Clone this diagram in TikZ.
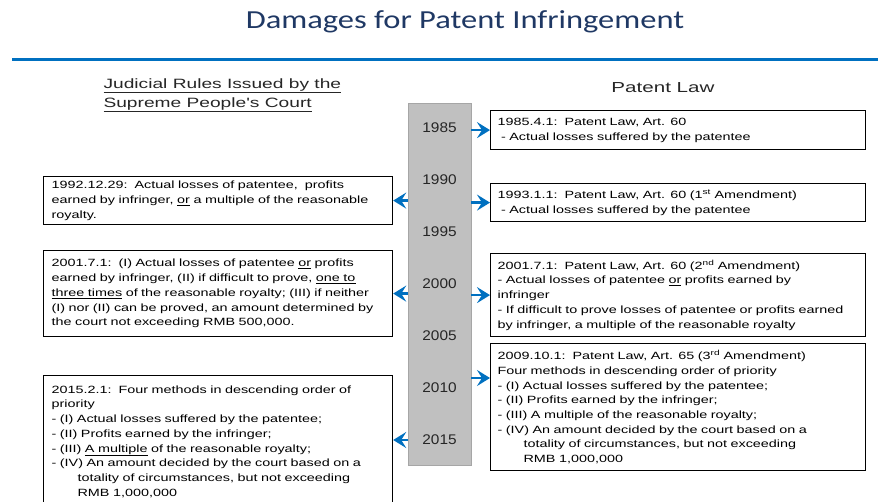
\documentclass[tikz,border=0pt]{standalone}
\usepackage{fontspec}
\usepackage{xcolor}
\usepackage{tikz}
\setmainfont{Liberation Sans}
\newfontfamily\titlefont[FakeStretch=1.25]{Carlito}
\newfontfamily\headfont[FakeStretch=1.42]{Liberation Sans}
\newfontfamily\boxfont[FakeStretch=1.37]{Liberation Sans}
\newfontfamily\yearfont[FakeStretch=1.1]{Liberation Sans}
\usetikzlibrary{arrows.meta,positioning}
\definecolor{titleblue}{RGB}{31,56,100}
\definecolor{ruleblue}{RGB}{0,112,192}
\definecolor{bargray}{RGB}{192,192,192}

\begin{document}
\begin{tikzpicture}
[x=1pt,y=-1pt,>={Stealth[length=13pt,width=16pt,inset=5pt]}]
\tikzset{
	rulesbox/.style = {draw, line width=1.2pt, anchor=north west, align=left, inner xsep=8pt, inner ysep=0pt,
		minimum width=349pt, text width=333pt, font=\boxfont\fontsize{10.5}{14.7}\selectfont},
	lawbox/.style = {draw, line width=1.2pt, anchor=north west, align=left, inner xsep=7pt, inner ysep=0pt,
		minimum width=375pt, text width=361pt, font=\boxfont\fontsize{10.5}{14.7}\selectfont},
	yearmark/.style = {font=\yearfont\fontsize{14}{16}\selectfont, text=black!85},
	heading/.style = {font=\headfont\fontsize{13.5}{19}\selectfont, text=black!85, align=left},
	link/.style = {draw=ruleblue, line width=2.2pt, ->}
}

\useasboundingbox (0,0) rectangle (878,502);

\node(title) at (465,22) [font=\titlefont\fontsize{26}{30}\selectfont, text=titleblue]{Damages for Patent Infringement};
\coordinate(ruleL) at (12,60);
\coordinate(ruleR) at (878,60);
\draw [ruleblue, line width=3pt] (ruleL) -- (ruleR);

\node(courthead) at (100,95.5) [heading, anchor=west]{\underline{Judicial Rules Issued by the}\\\underline{Supreme People's Court}};
\node(lawhead) at (663,88) [heading, font=\headfont\fontsize{14.5}{19}\selectfont]{Patent Law};

\node(bar) at (408,103) [draw=black!35, fill=bargray, anchor=north west, minimum width=63pt, minimum height=362pt, inner sep=0pt]{};
\foreach \yr [count=\i from 0] in {1985,1990,1995,2000,2005,2010,2015}
	\node(y\yr) at (439.5,128+52*\i) [yearmark]{\yr};

\node(r1) at (490,110) [lawbox, minimum height=39pt]{1985.4.1:\ \ Patent Law, Art. 60\\
	\ - Actual losses suffered by the patentee};
\node(r2) at (490,183) [lawbox, minimum height=38pt]{1993.1.1:\ \ Patent Law, Art. 60 (1\textsuperscript{st} Amendment)\\
	\ - Actual losses suffered by the patentee};
\node(r3) at (490,253) [lawbox, minimum height=83pt]{2001.7.1:\ \ Patent Law, Art. 60 (2\textsuperscript{nd} Amendment)\\
	- Actual losses of patentee \underline{or} profits earned by\\
	infringer\\
	- If difficult to prove losses of patentee or profits earned\\
	by infringer, a multiple of the reasonable royalty};
\node(r4) at (490,343) [lawbox, minimum height=127pt]{2009.10.1:\ \ Patent Law, Art. 65 (3\textsuperscript{rd} Amendment)\\
	Four methods in descending order of priority\\
	- (I) Actual losses suffered by the patentee;\\
	- (II) Profits earned by the infringer;\\
	- (III) A multiple of the reasonable royalty;\\
	- (IV) An amount decided by the court based on a\\
	\hspace*{26pt}totality of circumstances, but not exceeding\\
	\hspace*{26pt}RMB 1,000,000};

\node(l1) at (43,176) [rulesbox, minimum height=48pt]{1992.12.29:\ \ Actual losses of patentee,\ \ profits\\
	earned by infringer, \underline{or} a multiple of the reasonable\\
	royalty.};
\node(l2) at (43,250) [rulesbox, minimum height=86pt]{2001.7.1:\ \ (I) Actual losses of patentee \underline{or} profits\\
	earned by infringer, (II) if difficult to prove, \underline{one to}\\
	\underline{three times} of the reasonable royalty; (III) if neither\\
	(I) nor (II) can be proved, an amount determined by\\
	the court not exceeding RMB 500,000.};
\node(l3) at (43,375) [rulesbox, minimum height=132pt]{2015.2.1:\ \ Four methods in descending order of\\
	priority\\
	- (I) Actual losses suffered by the patentee;\\
	- (II) Profits earned by the infringer;\\
	- (III) \underline{A multiple} of the reasonable royalty;\\
	- (IV) An amount decided by the court based on a\\
	\hspace*{26pt}totality of circumstances, but not exceeding\\
	\hspace*{26pt}RMB 1,000,000};

\coordinate(r4in) at (490,378);

\draw [link] (bar.east |- r1.west) -- (r1.west);
\draw [link] (bar.east |- r2.west) -- (r2.west);
\draw [link] (bar.east |- r3.west) -- (r3.west);
\draw [link] (bar.east |- r4in) -- (r4in);
\draw [link] (bar.west |- l1.east) -- (l1.east);
\draw [link] (bar.west |- l2.east) -- (l2.east);
\draw [link] (bar.west |- y2015) -- (l3.east |- y2015);
\end{tikzpicture}
\end{document}
